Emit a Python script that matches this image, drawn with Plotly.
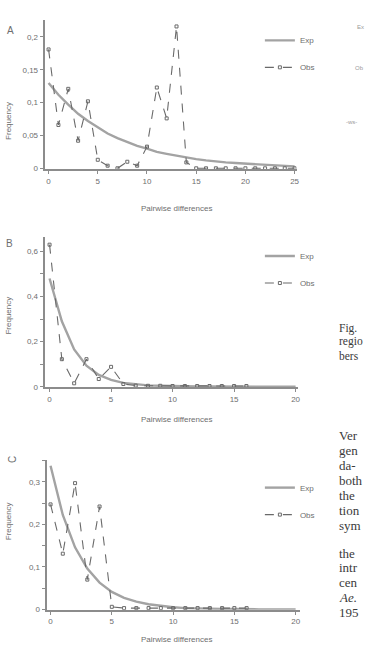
import plotly.graph_objects as go

W, H = 370, 660

# ---------------- data ----------------
# Panel A
a_x_obs = list(range(0, 26))
a_obs = [0.181, 0.066, 0.121, 0.042, 0.102, 0.013, 0.004, 0.0, 0.010, 0.004,
         0.033, 0.123, 0.076, 0.216, 0.009, 0.0, 0.0, 0.0, 0.0, 0.0,
         0.0, 0.0, 0.0, 0.0, 0.0, 0.0]
a_x_exp = list(range(0, 26))
a_exp = [0.130, 0.112, 0.097, 0.083, 0.072, 0.062, 0.053, 0.046, 0.040, 0.034,
         0.030, 0.025, 0.022, 0.019, 0.016, 0.014, 0.012, 0.010, 0.009, 0.008,
         0.007, 0.006, 0.005, 0.004, 0.004, 0.003]

# Panel B
b_x_obs = list(range(0, 17))
b_obs = [0.630, 0.122, 0.015, 0.122, 0.034, 0.088, 0.012, 0.005, 0.004, 0.004,
         0.003, 0.003, 0.003, 0.003, 0.003, 0.003, 0.003]
b_x_exp = list(range(0, 21))
b_exp = [0.480, 0.290, 0.165, 0.093, 0.052, 0.030, 0.017, 0.010, 0.006, 0.004,
         0.002, 0.0015, 0.001, 0.001, 0.0, 0.0, 0.0, 0.0, 0.0, 0.0, 0.0]

# Panel C
c_x_obs = list(range(0, 17))
c_obs = [0.247, 0.131, 0.297, 0.070, 0.242, 0.006, 0.003, 0.003, 0.003, 0.003,
         0.003, 0.003, 0.003, 0.003, 0.003, 0.003, 0.003]
c_x_exp = list(range(0, 21))
c_exp = [0.338, 0.222, 0.146, 0.096, 0.063, 0.041, 0.027, 0.018, 0.012, 0.008,
         0.005, 0.003, 0.002, 0.0015, 0.001, 0.001, 0.0, 0.0, 0.0, 0.0, 0.0]

a_yticks = [0, 0.05, 0.1, 0.15, 0.2]
b_yticks = [0, 0.2, 0.4, 0.6]
c_yticks = [0, 0.1, 0.2, 0.3]
a_xticks = [0, 5, 10, 15, 20, 25]
bc_xticks = [0, 5, 10, 15, 20]

x_title = "Pairwise differences"
y_title = "Frequency"
series_names = ["Exp", "Obs"]

# ---------------- helpers ----------------
def px(x):
    return x / W

def py(y):
    return 1 - y / H

AX = "#8c8c8c"
TXT = "#6e6e6e"
EXP_C = "#a3a3a3"
OBS_C = "#6a6a6a"
FONT = "Liberation Sans"

fig = go.Figure()

panels = [
    ("", a_x_obs, a_obs, a_x_exp, a_exp, "legend"),
    ("2", b_x_obs, b_obs, b_x_exp, b_exp, "legend2"),
    ("3", c_x_obs, c_obs, c_x_exp, c_exp, "legend3"),
]

for suf, xo, yo, xe, ye, leg in panels:
    fig.add_trace(go.Scatter(
        x=xe, y=ye, mode="lines", name=series_names[0],
        line=dict(color=EXP_C, width=2.4),
        xaxis="x" + suf, yaxis="y" + suf, legend=leg, legendgroup="e" + suf,
    ))
    fig.add_trace(go.Scatter(
        x=xo, y=yo, mode="lines+markers", name=series_names[1],
        line=dict(color=OBS_C, width=1.1, dash="dash"),
        marker=dict(symbol="square-open", size=3, color=OBS_C, line=dict(width=1, color=OBS_C)),
        xaxis="x" + suf, yaxis="y" + suf, legend=leg, legendgroup="o" + suf,
    ))

def xaxis_cfg(dom_px, rng, ticks, anchor):
    return dict(
        domain=[px(dom_px[0]), px(dom_px[1])], range=rng, anchor=anchor,
        tickvals=ticks, showgrid=False, zeroline=False,
        showline=True, linecolor=AX, linewidth=2,
        ticks="outside", ticklen=3, tickcolor=AX, tickwidth=1,
        tickfont=dict(family=FONT, size=8, color=TXT),
    )

def yaxis_cfg(dom_px, rng, ticks, minor_dtick, anchor):
    return dict(
        domain=[py(dom_px[1]), py(dom_px[0])], range=rng, anchor=anchor,
        tickvals=ticks, showgrid=False, zeroline=False,
        showline=True, linecolor=AX, linewidth=2,
        ticks="outside", ticklen=3, tickcolor=AX, tickwidth=1,
        tickfont=dict(family=FONT, size=8, color=TXT),
        minor=dict(dtick=minor_dtick, ticks="outside", ticklen=3, tickcolor=AX, showgrid=False),
    )

layout = dict(
    width=W, height=H, margin=dict(l=0, r=0, t=0, b=0),
    paper_bgcolor="white", plot_bgcolor="white",
    separators=",.",
    font=dict(family=FONT, color=TXT, size=8),
    xaxis=xaxis_cfg((45, 299), [-0.4, 25.2], a_xticks, "y"),
    yaxis=yaxis_cfg((20, 170), [-0.001, 0.226], a_yticks, 0.05, "x"),
    xaxis2=xaxis_cfg((45, 300), [-0.4, 20.16], bc_xticks, "y2"),
    yaxis2=yaxis_cfg((238, 389.5), [-0.002, 0.666], b_yticks, 0.1, "x2"),
    xaxis3=xaxis_cfg((47, 302), [-0.32, 20.32], bc_xticks, "y3"),
    yaxis3=yaxis_cfg((463, 613.5), [-0.001, 0.351], c_yticks, 0.05, "x3"),
)

def legend_cfg(x_px, y_px):
    return dict(
        x=px(x_px), y=py(y_px), xanchor="left", yanchor="top",
        bgcolor="rgba(0,0,0,0)", borderwidth=0,
        font=dict(family=FONT, size=8, color=TXT),
        tracegroupgap=8, itemwidth=30,
    )

layout["legend"] = legend_cfg(262, 26)
layout["legend2"] = legend_cfg(262, 243)
layout["legend3"] = legend_cfg(262, 476)

fig.update_layout(**layout)

ann = []
# axis titles
for yy in (203, 422, 650):
    ann.append(dict(text=x_title, x=px(178), y=py(yy), xref="paper", yref="paper",
                    showarrow=False, font=dict(family=FONT, size=8, color=TXT)))
for yy in (100, 317, 545):
    ann.append(dict(text=y_title, x=px(2), y=py(yy), xref="paper", yref="paper",
                    textangle=-90, showarrow=False, font=dict(family=FONT, size=8, color=TXT)))
# panel letters
ann.append(dict(text="A", x=px(5), y=py(23), xref="paper", yref="paper", showarrow=False,
                font=dict(family=FONT, size=10, color=TXT)))
ann.append(dict(text="B", x=px(4), y=py(245), xref="paper", yref="paper", showarrow=False,
                font=dict(family=FONT, size=10, color=TXT)))
ann.append(dict(text="C", x=px(5), y=py(468), xref="paper", yref="paper", showarrow=False,
                textangle=-90, font=dict(family=FONT, size=10, color=TXT)))

# small fragments from the neighbouring figure at the top right edge
for t, xx, yy in (("Ex", 369, 22), ("Ob", 369, 63), ("-ws-", 362, 118)):
    ann.append(dict(text=t, x=px(xx), y=py(yy), xref="paper", yref="paper", xanchor="right",
                    showarrow=False, font=dict(family=FONT, size=6, color="#9a9a9a")))

SERIF = "Liberation Serif"
# caption fragment
caption = [("Fig.", 330), ("regio", 344), ("bers", 358)]
for t, yy in caption:
    ann.append(dict(text=t, x=px(340), y=py(yy), xref="paper", yref="paper", xanchor="left",
                    showarrow=False, font=dict(family=SERIF, size=11.5, color="#3a3a3a")))
# body text of the page (right edge)
body = [("Ver", 448), ("gen", 463), ("da-", 478), ("both", 493), ("the", 508),
        ("tion", 523), ("sym", 538), ("the", 566), ("intr", 581), ("cen", 596),
        ("<i>Ae.</i>", 611), ("195", 626)]
for t, yy in body:
    ann.append(dict(text=t, x=px(340), y=py(yy), xref="paper", yref="paper", xanchor="left",
                    showarrow=False, font=dict(family=SERIF, size=13, color="#3a3a3a")))

fig.update_layout(annotations=ann)

fig.write_html("out.html")
